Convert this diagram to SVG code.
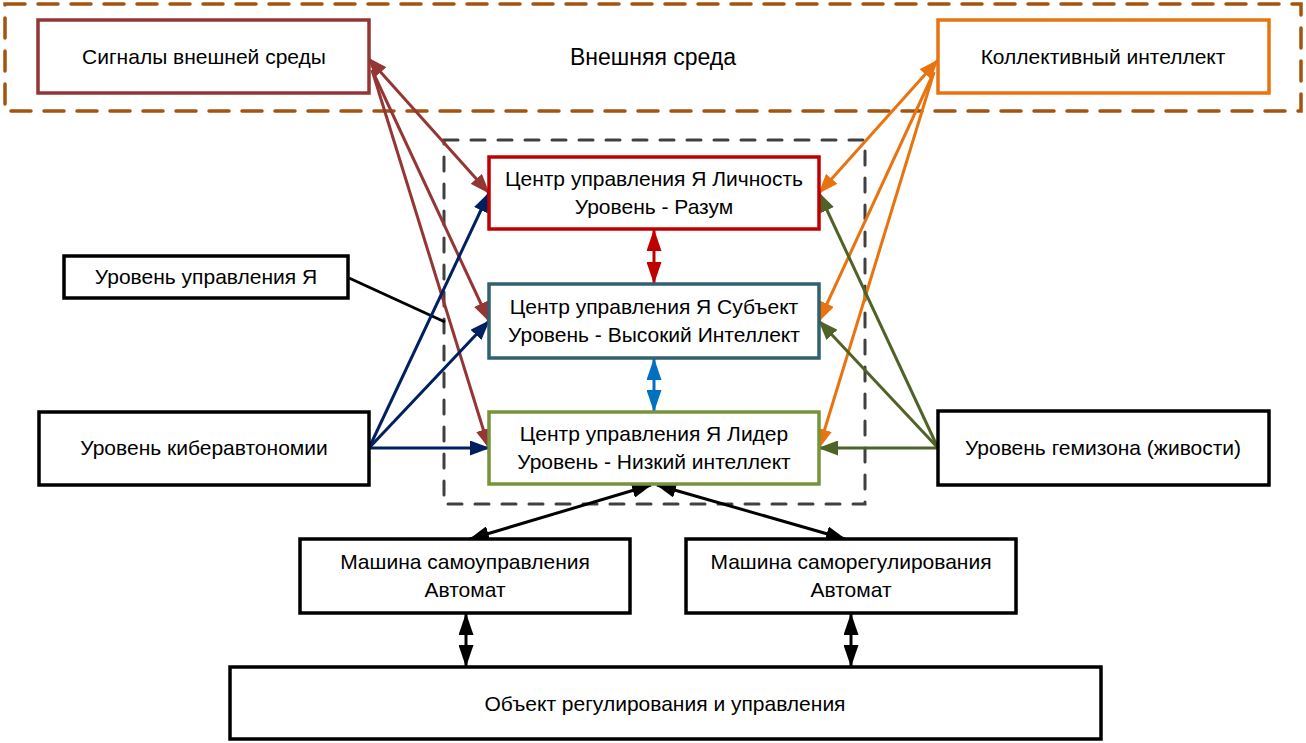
<svg xmlns="http://www.w3.org/2000/svg" width="1306" height="743" viewBox="0 0 1306 743">
<style>
text{font-family:"Liberation Sans",Arial,sans-serif;font-size:21px;fill:#000;text-anchor:middle}
.box{fill:#fff;stroke-width:3.5}
.k{stroke:#000}
line{stroke-width:3;fill:none}
</style>
<defs>
<marker id="mBr" markerUnits="userSpaceOnUse" viewBox="0 0 20 15" markerWidth="20" markerHeight="15" refX="19" refY="7.5" orient="auto-start-reverse"><path d="M0,0L20,7.5L0,15z" fill="#943634"/></marker>
<marker id="mOr" markerUnits="userSpaceOnUse" viewBox="0 0 20 15" markerWidth="20" markerHeight="15" refX="19" refY="7.5" orient="auto-start-reverse"><path d="M0,0L20,7.5L0,15z" fill="#E8730F"/></marker>
<marker id="mNv" markerUnits="userSpaceOnUse" viewBox="0 0 20 15" markerWidth="20" markerHeight="15" refX="19" refY="7.5" orient="auto-start-reverse"><path d="M0,0L20,7.5L0,15z" fill="#002060"/></marker>
<marker id="mOl" markerUnits="userSpaceOnUse" viewBox="0 0 20 15" markerWidth="20" markerHeight="15" refX="19" refY="7.5" orient="auto-start-reverse"><path d="M0,0L20,7.5L0,15z" fill="#4F6228"/></marker>
<marker id="mBk" markerUnits="userSpaceOnUse" viewBox="0 0 20 15" markerWidth="20" markerHeight="15" refX="19" refY="7.5" orient="auto-start-reverse"><path d="M0,0L20,7.5L0,15z" fill="#000"/></marker>
<marker id="vRd" markerUnits="userSpaceOnUse" viewBox="0 0 22 15" markerWidth="22" markerHeight="15" refX="21" refY="7.5" orient="auto-start-reverse"><path d="M0,0L22,7.5L0,15z" fill="#C00000"/></marker>
<marker id="vBl" markerUnits="userSpaceOnUse" viewBox="0 0 22 15" markerWidth="22" markerHeight="15" refX="21" refY="7.5" orient="auto-start-reverse"><path d="M0,0L22,7.5L0,15z" fill="#0070C0"/></marker>
<marker id="vBk" markerUnits="userSpaceOnUse" viewBox="0 0 22 15" markerWidth="22" markerHeight="15" refX="21" refY="7.5" orient="auto-start-reverse"><path d="M0,0L22,7.5L0,15z" fill="#000"/></marker>
</defs>
<rect width="1306" height="743" fill="#fff"/>

<g id="external-env">
<rect x="5" y="4" width="1296" height="107" fill="none" stroke="#A3540F" stroke-width="3.5" stroke-dasharray="20 13" stroke-linecap="round"/>
<text x="653" y="65" style="font-size:23px">Внешняя среда</text>
</g>
<g id="control-zone">
<rect x="444" y="140" width="421" height="364" fill="none" stroke="#404040" stroke-width="3" stroke-dasharray="14 13" stroke-linecap="round"/>
</g>

<g id="connectors">
<line x1="349" y1="278" x2="445" y2="322" stroke="#000"/>
<line x1="368" y1="58" x2="489" y2="193" stroke="#943634" marker-start="url(#mBr)" marker-end="url(#mBr)"/>
<line x1="372" y1="70" x2="489" y2="321" stroke="#943634" marker-end="url(#mBr)"/>
<line x1="372" y1="70" x2="489" y2="448" stroke="#943634" marker-end="url(#mBr)"/>
<line x1="938" y1="60" x2="819" y2="193" stroke="#E8730F" marker-start="url(#mOr)" marker-end="url(#mOr)"/>
<line x1="934" y1="72" x2="819" y2="321" stroke="#E8730F" marker-end="url(#mOr)"/>
<line x1="934" y1="72" x2="819" y2="448" stroke="#E8730F" marker-end="url(#mOr)"/>
<line x1="369" y1="448" x2="489" y2="193" stroke="#002060" marker-end="url(#mNv)"/>
<line x1="369" y1="448" x2="489" y2="321" stroke="#002060" marker-end="url(#mNv)"/>
<line x1="369" y1="448" x2="489" y2="448" stroke="#002060" marker-end="url(#mNv)"/>
<line x1="938" y1="448" x2="819" y2="193" stroke="#4F6228" marker-end="url(#mOl)"/>
<line x1="938" y1="448" x2="819" y2="321" stroke="#4F6228" marker-end="url(#mOl)"/>
<line x1="938" y1="448" x2="819" y2="448" stroke="#4F6228" marker-end="url(#mOl)"/>
<line x1="654" y1="230" x2="654" y2="283" stroke="#C00000" marker-start="url(#vRd)" marker-end="url(#vRd)"/>
<line x1="654" y1="359" x2="654" y2="411" stroke="#0070C0" marker-start="url(#vBl)" marker-end="url(#vBl)"/>
<line x1="470" y1="539" x2="651" y2="485" stroke="#000" marker-start="url(#mBk)" marker-end="url(#mBk)"/>
<line x1="845" y1="539" x2="657" y2="485" stroke="#000" marker-start="url(#mBk)" marker-end="url(#mBk)"/>
<line x1="466" y1="614" x2="466" y2="666" stroke="#000" marker-start="url(#vBk)" marker-end="url(#vBk)"/>
<line x1="851" y1="614" x2="851" y2="666" stroke="#000" marker-start="url(#vBk)" marker-end="url(#vBk)"/>
</g>

<g id="signals">
<rect class="box" x="38" y="20" width="331" height="73" stroke="#943634"/>
<text x="204" y="64">Сигналы внешней среды</text>
</g>
<g id="collective">
<rect class="box" x="938" y="20" width="331" height="73" stroke="#E8730F"/>
<text x="1103" y="64">Коллективный интеллект</text>
</g>
<g id="center-personality">
<rect class="box" x="489" y="157" width="330" height="72" stroke="#C00000"/>
<text x="654" y="186">Центр управления Я Личность</text>
<text x="654" y="214">Уровень - Разум</text>
</g>
<g id="center-subject">
<rect class="box" x="489" y="284" width="330" height="74" stroke="#31606E"/>
<text x="654" y="314">Центр управления Я Субъект</text>
<text x="654" y="342">Уровень - Высокий Интеллект</text>
</g>
<g id="center-leader">
<rect class="box" x="489" y="412" width="330" height="72" stroke="#77933C"/>
<text x="654" y="441">Центр управления Я Лидер</text>
<text x="654" y="469">Уровень - Низкий интеллект</text>
</g>
<g id="level-control">
<rect class="box k" x="64" y="256" width="284" height="42"/>
<text x="206" y="284">Уровень управления Я</text>
</g>
<g id="level-cyber">
<rect class="box k" x="39" y="412" width="330" height="73"/>
<text x="204" y="455">Уровень киберавтономии</text>
</g>
<g id="level-hemizon">
<rect class="box k" x="938" y="411" width="331" height="74"/>
<text x="1103" y="455">Уровень гемизона (живости)</text>
</g>
<g id="machine-selfcontrol">
<rect class="box k" x="300" y="539" width="330" height="74"/>
<text x="465" y="569">Машина самоуправления</text>
<text x="465" y="597">Автомат</text>
</g>
<g id="machine-selfregulation">
<rect class="box k" x="686" y="539" width="330" height="74"/>
<text x="851" y="569">Машина саморегулирования</text>
<text x="851" y="597">Автомат</text>
</g>
<g id="object">
<rect class="box k" x="230" y="667" width="871" height="72"/>
<text x="665" y="711">Объект регулирования и управления</text>
</g>
</svg>
